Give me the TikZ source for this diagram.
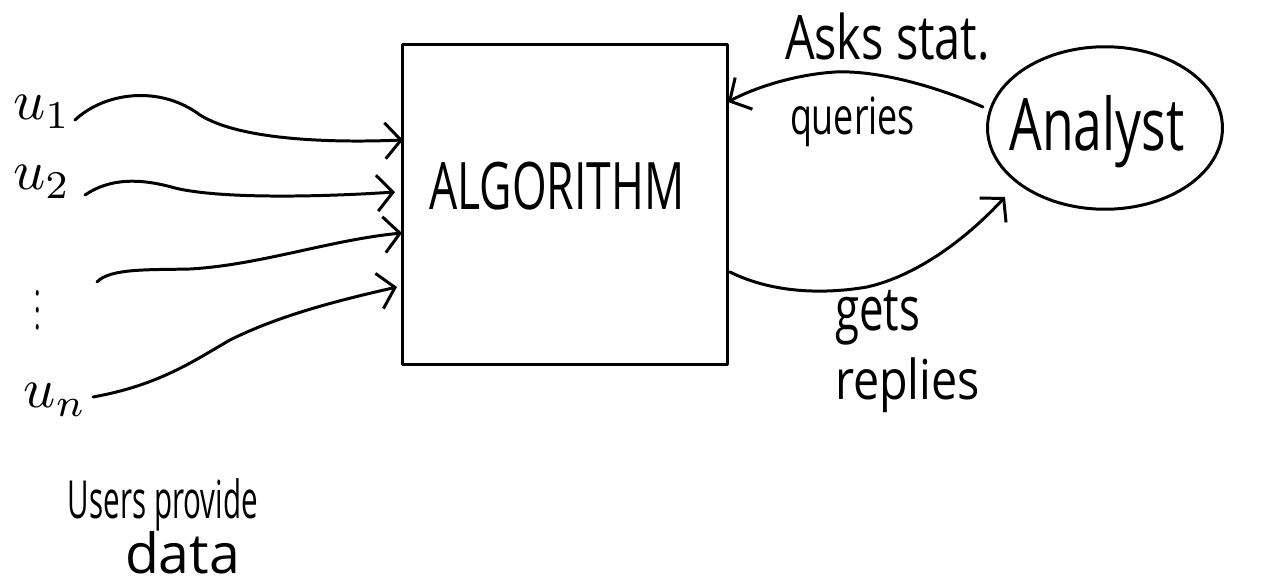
\documentclass[tikz,border=0pt]{standalone}
\usepackage{fontspec}
\setmainfont{Open Sans}
\usetikzlibrary{arrows.meta,shapes.geometric}
\tikzset{
  pen/.style={line width=1.7pt, line cap=round, line join=round},
  arr/.style={pen, -{Straight Barb[length=0.32cm,width=0.72cm,line width=1.7pt]}},
  lbl/.style={inner sep=0pt, outer sep=0pt},
  umath/.style={inner sep=0pt}
}
\begin{document}
\begin{tikzpicture}[x=0.02cm,y=-0.02cm]
\useasboundingbox (0,0) rectangle (1262,588);
% main box
\node[pen, draw, anchor=north west, minimum width=6.5cm, minimum height=6.4cm, inner sep=0pt] (box) at (401,43) {};
\node[lbl] (alg) at (557,186) {\resizebox{5.1cm}{0.95cm}{ALGORITHM}};
% analyst
\node[pen, draw, ellipse, minimum width=4.7cm, minimum height=3.25cm] (an) at (1105,128) {};
\node[lbl] (anl) at (1097,132) {\resizebox*{3.5cm}{1.45cm}{Analyst}};
% users
\node[umath] (u1) at (42,112) {\scalebox{3.2}{$u_{1}$}};
\node[umath] (u2) at (42,182) {\scalebox{3.2}{$u_{2}$}};
\node[umath] (ud) at (38,298) {\scalebox{1.4}[2.4]{$\vdots$}};
\node[umath] (un) at (55,400) {\scalebox{3.2}{$u_{n}$}};
% connector ends
\coordinate (s1) at (75,120);
\coordinate (e1) at (403,140);
\coordinate (s2) at (85,195);
\coordinate (e2) at (395,192);
\coordinate (s3) at (97,282);
\coordinate (e3) at (402,233);
\coordinate (s4) at (93,397);
\coordinate (e4) at (397,287);
\draw[arr] (s1) .. controls (105,92) and (160,85) .. (200,115) .. controls (240,140) and (330,143) .. (e1);
\draw[arr] (s2) .. controls (110,178) and (140,178) .. (175,188) .. controls (220,199) and (320,197) .. (e2);
\draw[arr] (s3) .. controls (110,268) and (150,270) .. (190,269) .. controls (260,265) and (330,240) .. (e3);
\draw[arr] (s4) .. controls (160,385) and (195,360) .. (230,340) .. controls (280,315) and (340,300) .. (e4);
% queries / replies
\coordinate (q1) at (983,107);
\coordinate (q2) at (728,102);
\coordinate (r1) at (730,272);
\coordinate (r2) at (1005,197);
\draw[arr] (q1) .. controls (940,88) and (880,70) .. (835,72) .. controls (790,75) and (750,90) .. (q2);
\draw[arr] (r1) .. controls (770,292) and (820,295) .. (867,287) .. controls (920,275) and (970,235) .. (r2);
% labels
\node[lbl, anchor=west] (asks) at (785,37) {\resizebox*{4.1cm}{0.95cm}{Asks stat.}};
\node[lbl, anchor=west] (que) at (790,122) {\resizebox*{2.5cm}{1.0cm}{queries}};
\node[lbl, anchor=west] (gets) at (835,318) {\resizebox*{1.7cm}{1.1cm}{gets}};
\node[lbl, anchor=west] (rep) at (835,385) {\resizebox*{2.9cm}{1.1cm}{replies}};
\node[lbl, anchor=west] (usp) at (68,505) {\resizebox*{3.8cm}{1.05cm}{Users provide}};
\node[lbl, anchor=west] (dat) at (125,553) {\resizebox{2.3cm}{!}{data}};
\end{tikzpicture}
\end{document}
